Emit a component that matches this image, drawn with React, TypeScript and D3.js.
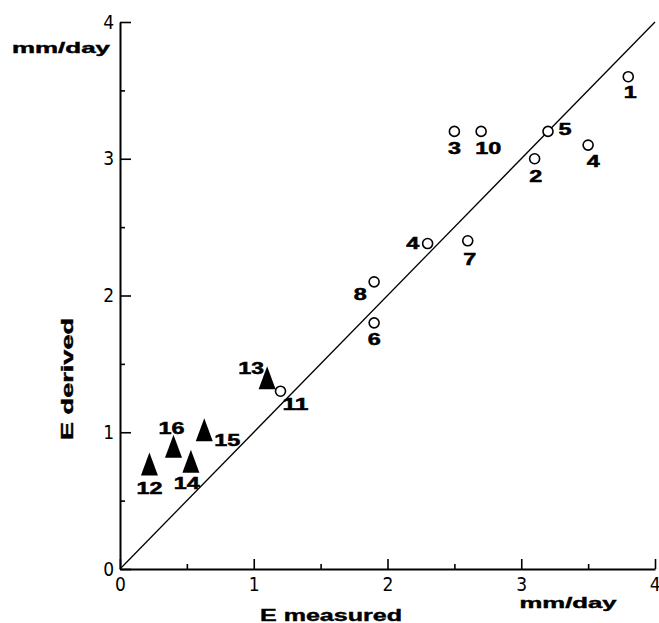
import React, { useEffect, useRef } from "react";
import * as d3 from "d3";

// station numbers, E measured vs E derived (mm/day)
const ids = ["1", "5", "3", "10", "2", "4", "4", "7", "8", "6", "11", "13", "16", "15", "14", "12"];
const measured = [3.8, 3.2, 2.5, 2.7, 3.1, 3.5, 2.3, 2.6, 1.9, 1.9, 1.2, 1.1, 0.4, 0.63, 0.53, 0.22];
const derived = [3.6, 3.2, 3.2, 3.2, 3.0, 3.1, 2.38, 2.4, 2.1, 1.8, 1.3, 1.38, 0.88, 1.0, 0.77, 0.75];
const kinds = ["o", "o", "o", "o", "o", "o", "o", "o", "o", "o", "o", "t", "t", "t", "t", "t"];
const majorTicks = [0, 1, 2, 3, 4];
const minorTicks = [0.5, 1.5, 2.5, 3.5];

// where each number sits relative to its marker (px)
const labelOffsets: [number, number][] = [
  [2, 16], [17, -2], [0, 17], [7, 17], [1, 17], [5, 16], [-15, 0], [2, 18],
  [-14, 12], [0, 16], [15, 13], [-16, -12], [-2, -20], [23, 8], [-4, 20], [0, 22],
];

const W = 659;
const H = 623;
const boldFont = "'Liberation Sans', Arial, sans-serif";
const tickFont = "'Liberation Sans Narrow', 'DejaVu Sans Condensed', sans-serif";

export default function App() {
  const ref = useRef<SVGSVGElement>(null);

  useEffect(() => {
    const svg = d3.select(ref.current);
    svg.selectAll("*").remove();

    const x = d3.scaleLinear().domain([0, 4]).range([120, 655]);
    const y = d3.scaleLinear().domain([0, 4]).range([569, 22]);

    // axes: inward ticks
    const gx = svg.append("g").attr("transform", `translate(0,${y(0)})`);
    gx.call(
      d3.axisBottom(x).tickValues(majorTicks).tickSizeInner(-10).tickSizeOuter(0).tickPadding(12).tickFormat(d3.format("d"))
    );
    gx.append("g").call(
      d3.axisBottom(x).tickValues(minorTicks).tickSizeInner(-5).tickSizeOuter(0).tickFormat(() => "")
    ).select(".domain").remove();

    const gy = svg.append("g").attr("transform", `translate(${x(0)},0)`);
    gy.call(
      d3.axisLeft(y).tickValues(majorTicks).tickSizeInner(-11).tickSizeOuter(0).tickPadding(6).tickFormat(d3.format("d"))
    );
    gy.append("g").call(
      d3.axisLeft(y).tickValues(minorTicks).tickSizeInner(-5).tickSizeOuter(0).tickFormat(() => "")
    ).select(".domain").remove();

    svg.selectAll(".domain").attr("stroke", "#000").attr("stroke-width", 2);
    svg.selectAll(".tick line").attr("stroke", "#000").attr("stroke-width", 1.6);
    svg.selectAll(".tick text")
      .attr("font-family", tickFont)
      .attr("font-size", 19)
      .attr("fill", "#000");
    gx.selectAll(".tick text").attr("dy", "0.5em");
    // last x label sits at the page edge; keep it inside
    gx.selectAll<SVGTextElement, number>(".tick text")
      .filter((d) => d === 4)
      .attr("text-anchor", "end")
      .attr("dx", 5);

    // 1:1 line
    svg.append("line")
      .attr("x1", x(0)).attr("y1", y(0))
      .attr("x2", x(4)).attr("y2", y(4))
      .attr("stroke", "#000").attr("stroke-width", 1.3);

    const pts = ids.map((id, i) => ({ id, mx: measured[i], dy: derived[i], kind: kinds[i], off: labelOffsets[i] }));

    svg.append("g").selectAll("circle")
      .data(pts.filter((d) => d.kind === "o"))
      .join("circle")
      .attr("cx", (d) => x(d.mx))
      .attr("cy", (d) => y(d.dy))
      .attr("r", 5)
      .attr("fill", "#fff")
      .attr("stroke", "#000")
      .attr("stroke-width", 1.6);

    svg.append("g").selectAll("path")
      .data(pts.filter((d) => d.kind === "t"))
      .join("path")
      .attr("transform", (d) => `translate(${x(d.mx)},${y(d.dy)})`)
      .attr("d", "M0,-14L8.5,9L-8.5,9Z")
      .attr("fill", "#000");

    svg.append("g").selectAll("text")
      .data(pts)
      .join("text")
      .attr("x", (d) => x(d.mx) + d.off[0])
      .attr("y", (d) => y(d.dy) + d.off[1])
      .attr("dy", "0.36em")
      .attr("text-anchor", "middle")
      .attr("font-family", boldFont)
      .attr("font-weight", "bold")
      .attr("font-size", 16)
      .attr("stroke", "#000")
      .attr("stroke-width", 0.5)
      .attr("textLength", (d) => d.id.length * 13)
      .attr("lengthAdjust", "spacingAndGlyphs")
      .text((d) => d.id);

    const label = (txt: string, cx: number, cy: number, len: number, size: number, rot = 0) =>
      svg.append("text")
        .attr("transform", `translate(${cx},${cy}) rotate(${rot})`)
        .attr("dy", "0.36em")
        .attr("text-anchor", "middle")
        .attr("font-family", boldFont)
        .attr("font-weight", "bold")
        .attr("font-size", size)
        .attr("stroke", "#000")
        .attr("stroke-width", 0.4)
        .attr("textLength", len)
        .attr("lengthAdjust", "spacingAndGlyphs")
        .text(txt);

    label("mm/day", 61, 48, 98, 14);
    label("mm/day", 568, 603, 97, 14);
    label("E measured", 331, 615, 142, 16);
    label("E derived", 67, 379, 122, 16, -90);
  }, []);

  return (
    <svg
      ref={ref}
      width={W}
      height={H}
      style={{ position: "absolute", left: 0, top: 0, background: "#fff" }}
    />
  );
}
